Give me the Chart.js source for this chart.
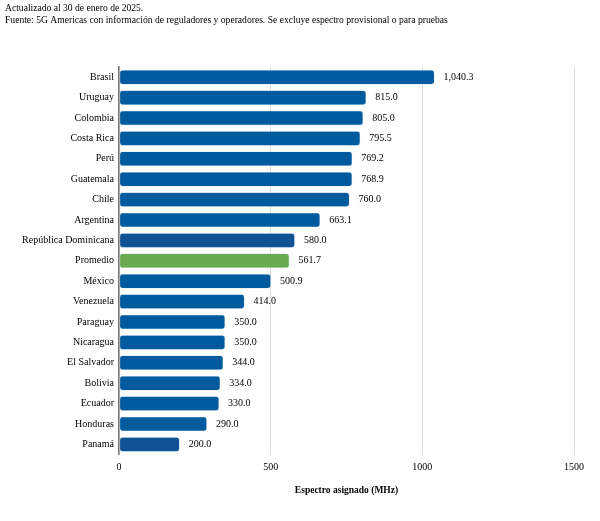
<!DOCTYPE html>
<html>
<head>
<meta charset="utf-8">
<script src="https://cdn.jsdelivr.net/npm/chart.js"></script>
<style>
  body { margin: 0; background: #fff; }
  #wrap { width: 600px; height: 521px; }
</style>
</head>
<body>
<div id="wrap"><canvas id="myChart"></canvas></div>
<script>
   const paises = ["Brasil", "Uruguay", "Colombia", "Costa Rica", "Perú", "Guatemala", "Chile",
      "Argentina", "República Dominicana", "Promedio", "México", "Venezuela", "Paraguay",
      "Nicaragua", "El Salvador", "Bolivia", "Ecuador", "Honduras", "Panamá"];
   const espectro = [1040.3, 815.0, 805.0, 795.5, 769.2, 768.9, 760.0, 663.1, 580.0, 561.7,
      500.9, 414.0, 350.0, 350.0, 344.0, 334.0, 330.0, 290.0, 200.0];
   const ticksX = [0, 500, 1000, 1500];

   const azul = "#005a9e";
   const azulOscuro = "#0f5394";
   const verde = "#6aaa50";
   const oscuros = ["República Dominicana", "Panamá"];

   const serif = "'Liberation Serif', 'Times New Roman', serif";

   // labels at the end of each bar
   const etiquetas = {
      id: 'etiquetas',
      afterDatasetsDraw(chart) {
         const ctx = chart.ctx;
         const meta = chart.getDatasetMeta(0);
         ctx.save();
         ctx.font = "10px " + serif;
         ctx.fillStyle = "#000";
         ctx.textAlign = "left";
         ctx.textBaseline = "middle";
         meta.data.forEach(function (bar, i) {
            const txt = espectro[i].toLocaleString('en-US', { minimumFractionDigits: 1, maximumFractionDigits: 1 });
            ctx.fillText(txt, bar.x + 9, bar.y);
         });
         ctx.restore();
      }
   };

   new Chart(document.getElementById("myChart"), {
      type: 'bar',
      data: {
         labels: paises,
         datasets: [{
            data: espectro,
            backgroundColor: function (c) {
               const p = paises[c.dataIndex];
               if (p === "Promedio") return verde;
               if (oscuros.includes(p)) return azulOscuro;
               return azul;
            },
            borderColor: "rgba(170,200,230,0.8)",
            borderWidth: 0.6,
            borderRadius: 3,
            borderSkipped: false,
            barPercentage: 0.72,
            categoryPercentage: 1.0
         }]
      },
      options: {
         indexAxis: 'y',
         responsive: true,
         maintainAspectRatio: false,
         animation: false,
         layout: { padding: { left: 5, right: 26, top: 0, bottom: 21 } },
         plugins: {
            legend: { display: false },
            tooltip: { enabled: false },
            title: {
               display: true,
               align: 'start',
               text: ["Actualizado al 30 de enero de 2025.",
                  "Fuente: 5G Americas con información de reguladores y operadores. Se excluye espectro provisional o para pruebas"],
               color: "#000",
               font: { family: serif, size: 9.6, weight: 'normal', lineHeight: 1.2 },
               padding: { top: 3, bottom: 41 }
            }
         },
         scales: {
            x: {
               min: 0,
               max: 1500,
               afterBuildTicks: function (s) { s.ticks = ticksX.map(v => ({ value: v })); },
               grid: { color: "#dddddd", drawTicks: false },
               border: { display: false },
               ticks: {
                  color: "#000", padding: 6.5, font: { family: serif, size: 10 },
                  callback: function (v) { return String(v); }
               },
               title: {
                  display: true,
                  text: "Espectro asignado (MHz)",
                  color: "#000",
                  font: { family: serif, size: 9.5, weight: 'bold' },
                  padding: { top: 5, bottom: 4 }
               }
            },
            y: {
               afterFit: function (s) { s.width = 114; },
               grid: { display: false, drawTicks: false },
               border: { display: true, color: "#777", width: 1.5 },
               ticks: { color: "#000", padding: 5, autoSkip: false, font: { family: serif, size: 10 } }
            }
         }
      },
      plugins: [etiquetas]
   });
</script>
</body>
</html>
